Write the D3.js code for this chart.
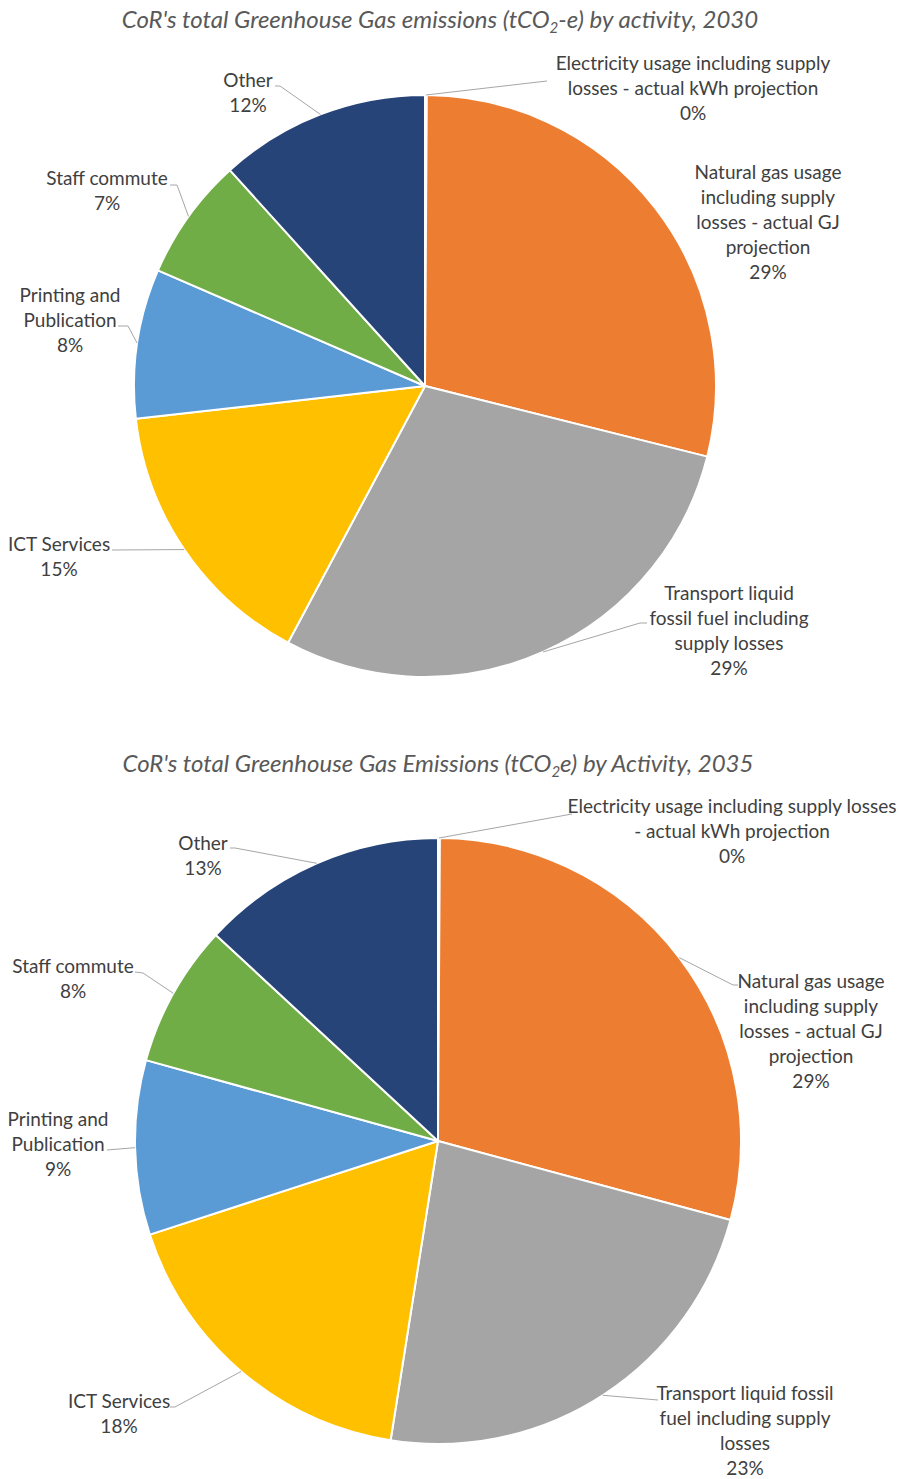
<!DOCTYPE html>
<html>
<head>
<meta charset="utf-8">
<script src="https://cdn.jsdelivr.net/npm/d3@7"></script>
<style>
  html, body { margin: 0; padding: 0; background: #fff; }
  svg { display: block; }
</style>
</head>
<body>
<svg id="chart" width="899" height="1479"></svg>
<script>
// Emission activities, in the order the slices run clockwise from 12 o'clock
const categories = [
  "Electricity usage including supply losses - actual kWh projection",
  "Natural gas usage including supply losses - actual GJ projection",
  "Transport liquid fossil fuel including supply losses",
  "ICT Services",
  "Printing and Publication",
  "Staff commute",
  "Other"
];

// Share of total emissions (%) per activity
const values2030 = [0.1, 28.8, 28.9, 15.4, 8.3, 6.8, 11.7];
const values2035 = [0.1, 29.1, 23.3, 17.5, 9.3, 7.6, 13.1];

const sliceColors = ["#4472C4", "#ED7D31", "#A5A5A5", "#FFC000", "#5B9BD5", "#70AD47", "#264478"];

// How each category name wraps in the data labels
const labelLines2030 = [
  ["Electricity usage including supply", "losses - actual kWh projection"],
  ["Natural gas usage", "including supply", "losses - actual GJ", "projection"],
  ["Transport liquid", "fossil fuel including", "supply losses"],
  ["ICT Services"],
  ["Printing and", "Publication"],
  ["Staff commute"],
  ["Other"]
];
const labelLines2035 = [
  ["Electricity usage including supply losses", "- actual kWh projection"],
  ["Natural gas usage", "including supply", "losses - actual GJ", "projection"],
  ["Transport liquid fossil", "fuel including supply", "losses"],
  ["ICT Services"],
  ["Printing and", "Publication"],
  ["Staff commute"],
  ["Other"]
];

// Label placement relative to the pie centre: text centre (tx, ty of first line),
// and the leader line's elbow / end points (null = no leader)
const layout2030 = {
  cx: 425, cy: 386, r: 291,
  title: { pre: "CoR's total Greenhouse Gas emissions (tCO", sub: "2", post: "-e) by activity, 2030", x: 440, y: 20 },
  labels: [
    { tx: 268, ty: -323, leader: [[122, -305]] },
    { tx: 343, ty: -214, leader: null },
    { tx: 304, ty: 207, leader: [[215, 237], [222, 237]] },
    { tx: -366, ty: 158, leader: [[-313, 164]] },
    { tx: -355, ty: -91, leader: [[-297, -60], [-307, -60]] },
    { tx: -318, ty: -208, leader: [[-248, -201], [-255, -201]] },
    { tx: -177, ty: -306, leader: [[-145, -300], [-150, -300]] }
  ]
};
const layout2035 = {
  cx: 438, cy: 1141, r: 303,
  title: { pre: "CoR's total Greenhouse Gas Emissions (tCO", sub: "2", post: "e) by Activity, 2035", x: 438, y: 764 },
  labels: [
    { tx: 294, ty: -335, leader: [[134, -327]] },
    { tx: 373, ty: -160, leader: [[295, -156], [300, -156]] },
    { tx: 307, ty: 252, leader: [[220, 259]] },
    { tx: -319, ty: 260, leader: [[-263, 266], [-268, 266]] },
    { tx: -380, ty: -22, leader: [[-331, 9]] },
    { tx: -365, ty: -175, leader: [[-295, -168], [-303, -169]] },
    { tx: -235, ty: -298, leader: [[-203, -293], [-208, -293]] }
  ]
};

const svg = d3.select("#chart");
const FONT = "Lato, 'Open Sans', sans-serif";

function drawPie(values, lines, cfg) {
  const g = svg.append("g").attr("transform", `translate(${cfg.cx},${cfg.cy})`);
  const total = d3.sum(values);

  const pie = d3.pie().sort(null).startAngle(0).endAngle(2 * Math.PI).value(d => d);
  const arcs = pie(values);
  const arc = d3.arc().innerRadius(0).outerRadius(cfg.r);

  g.selectAll("path.slice")
    .data(arcs)
    .join("path")
    .attr("class", "slice")
    .attr("d", arc)
    .attr("fill", (d, i) => sliceColors[i])
    .attr("stroke", "#fff")
    .attr("stroke-width", 2)
    .attr("stroke-linejoin", "round");

  // Leader lines: from the slice edge at its mid-angle out to the label
  const edgePoint = d => {
    const a = (d.startAngle + d.endAngle) / 2;
    return [cfg.r * Math.sin(a), -cfg.r * Math.cos(a)];
  };
  arcs.forEach((d, i) => {
    const lab = cfg.labels[i];
    if (!lab.leader) return;
    const pts = [edgePoint(d)].concat(lab.leader);
    g.append("path")
      .attr("d", d3.line()(pts))
      .attr("fill", "none")
      .attr("stroke", "#A6A6A6")
      .attr("stroke-width", 1);
  });

  // Data labels: category name plus rounded percentage
  arcs.forEach((d, i) => {
    const lab = cfg.labels[i];
    const rows = lines[i].concat([Math.round(d.data / total * 100) + "%"]);
    const t = g.append("text")
      .attr("text-anchor", "middle")
      .attr("font-family", FONT)
      .attr("font-size", 19)
      .attr("fill", "#404040");
    rows.forEach((row, k) => {
      t.append("tspan")
        .attr("x", lab.tx)
        .attr("y", lab.ty + k * 25)
        .attr("dy", "0.35em")
        .text(row);
    });
  });

  // Title with subscript
  const tt = svg.append("text")
    .attr("x", cfg.title.x)
    .attr("y", cfg.title.y)
    .attr("dy", "0.35em")
    .attr("text-anchor", "middle")
    .attr("font-family", FONT)
    .attr("font-style", "italic")
    .attr("font-size", 24)
    .attr("fill", "#595959");
  tt.append("tspan").text(cfg.title.pre);
  tt.append("tspan").attr("font-size", 15).attr("dy", 5).text(cfg.title.sub);
  tt.append("tspan").attr("dy", -5).text(cfg.title.post);
}

drawPie(values2030, labelLines2030, layout2030);
drawPie(values2035, labelLines2035, layout2035);
</script>
</body>
</html>
